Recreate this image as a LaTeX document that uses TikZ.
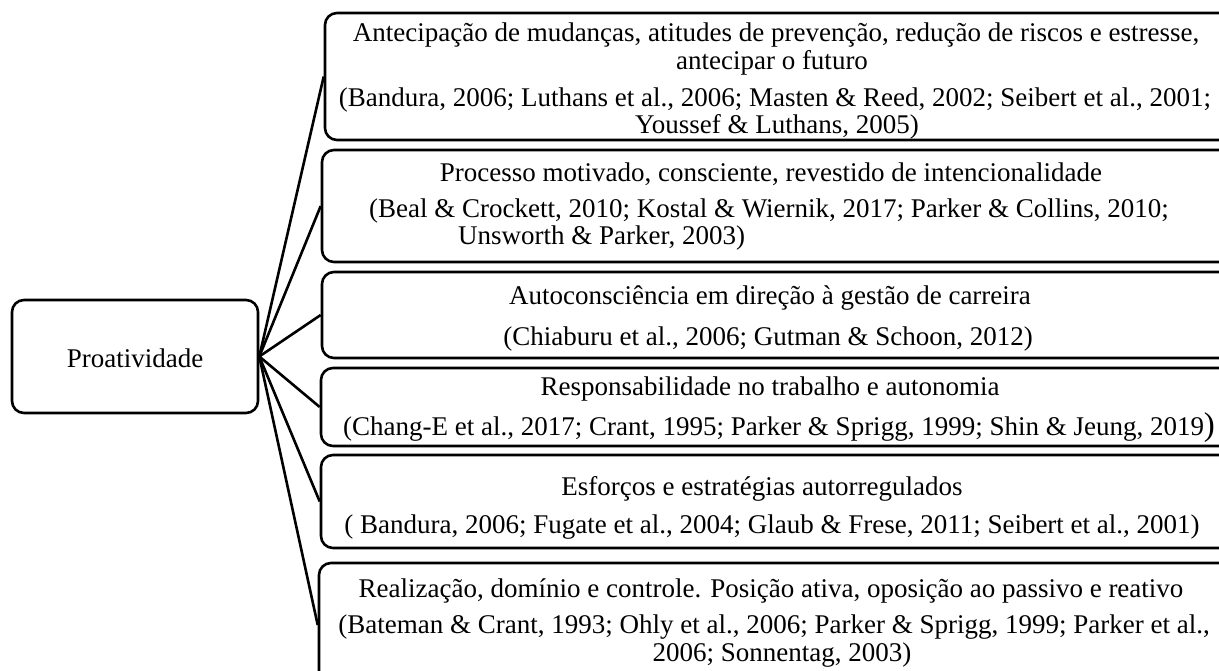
\documentclass[tikz,border=0pt]{standalone}
\usepackage{fontspec}
\setmainfont{Liberation Serif}
\begin{document}
\begin{tikzpicture}[x=1pt,y=-1pt,
  box/.style={draw, line width=2.6pt, rounded corners=12pt, inner sep=0pt},
  conn/.style={draw, line width=2.6pt},
  txt/.style={inner sep=0pt, font=\fontsize{27}{32}\selectfont, text height=20pt, text depth=0pt}]
\useasboundingbox (0,0) rectangle (1219,671);
\clip (0,0) rectangle (1219,671);
% central node
\node[box, minimum width=246pt, minimum height=113pt] (pro) at (135,356.5) {};
\node[txt] (protxt) at (135,357) {Proatividade};
% boxes
\node[box, minimum width=915pt, minimum height=127pt] (b1) at (782.5,76.5) {};
\node[box, minimum width=918pt, minimum height=112pt] (b2) at (781,206) {};
\node[box, minimum width=918pt, minimum height=86pt] (b3) at (781,315) {};
\node[box, minimum width=919pt, minimum height=78pt] (b4) at (780.5,407) {};
\node[box, minimum width=919pt, minimum height=93pt] (b5) at (780.5,501.5) {};
\node[box, minimum width=921pt, minimum height=124pt] (b6) at (779.5,625) {};
% texts
\node[txt] (t1a) at (776,32) {Antecipação de mudanças, atitudes de prevenção, redução de riscos e estresse,};
\node[txt] (t1b) at (772,60) {antecipar o futuro};
\node[txt] (t1c) at (775,97) {(Bandura, 2006; Luthans et al., 2006; Masten \& Reed, 2002; Seibert et al., 2001;};
\node[txt] (t1d) at (777,124) {Youssef \& Luthans, 2005)};
\node[txt] (t2a) at (771,172) {Processo motivado, consciente, revestido de intencionalidade};
\node[txt] (t2b) at (769,208) {(Beal \& Crockett, 2010; Kostal \& Wiernik, 2017; Parker \& Collins, 2010;};
\node[txt, anchor=west] (t2c) at (458,235) {Unsworth \& Parker, 2003)};
\node[txt] (t3a) at (770,295) {Autoconsciência em direção à gestão de carreira};
\node[txt] (t3b) at (768,335) {(Chiaburu et al., 2006; Gutman \& Schoon, 2012)};
\node[txt] (t4a) at (770,385) {Responsabilidade no trabalho e autonomia};
\node[txt] (t4b) at (779,425) {(Chang-E et al., 2017; Crant, 1995; Parker \& Sprigg, 1999; Shin \& Jeung, 2019{\fontsize{33}{36}\selectfont)}};
\node[txt] (t5a) at (762,485) {Esforços e estratégias autorregulados};
\node[txt] (t5b) at (772,523) {( Bandura, 2006; Fugate et al., 2004; Glaub \& Frese, 2011; Seibert et al., 2001)};
\node[txt] (t6a) at (771,587) {Realização, domínio e controle. Posição ativa, oposição ao passivo e reativo};
\node[txt] (t6b) at (774,623) {(Bateman \& Crant, 1993; Ohly et al., 2006; Parker \& Sprigg, 1999; Parker et al.,};
\node[txt] (t6c) at (782,651) {2006; Sonnentag, 2003)};
% connectors
\draw[conn] (pro.east) -- (b1.west);
\draw[conn] (pro.east) -- (b2.west);
\draw[conn] (pro.east) -- (b3.west);
\draw[conn] (pro.east) -- (b4.west);
\draw[conn] (pro.east) -- (b5.west);
\draw[conn] (pro.east) -- (b6.west);
\end{tikzpicture}
\end{document}
